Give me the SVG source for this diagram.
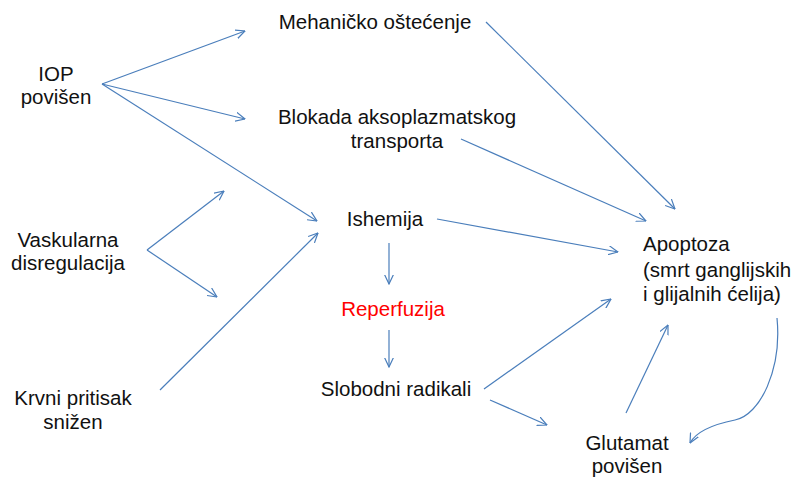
<svg xmlns="http://www.w3.org/2000/svg" width="795" height="477" viewBox="0 0 795 477">
<style>
text{font-family:"Liberation Sans",Arial,sans-serif;font-size:20.5px;fill:#111;}
.c{text-anchor:middle;}
.red{fill:#ff0000;}
.ln{stroke:#4a7ebb;stroke-width:1.2;fill:none;marker-end:url(#ah);}
</style>
<defs>
<marker id="ah" viewBox="0 0 10 10" refX="9.5" refY="5" markerWidth="10" markerHeight="10" markerUnits="userSpaceOnUse" orient="auto">
<path d="M0,0.5 L9.5,5 L0,9.5" fill="none" stroke="#4a7ebb" stroke-width="1.2"/>
</marker>
</defs>
<rect width="795" height="477" fill="#ffffff"/>
<g id="connectors">
<line class="ln" x1="102" y1="84" x2="245" y2="31"/>
<line class="ln" x1="102" y1="84" x2="245" y2="119"/>
<line class="ln" x1="102" y1="84" x2="317" y2="221"/>
<line class="ln" x1="147" y1="250" x2="224" y2="191"/>
<line class="ln" x1="147" y1="250" x2="217" y2="297"/>
<line class="ln" x1="160" y1="390" x2="318" y2="233"/>
<line class="ln" x1="486" y1="22" x2="675" y2="209"/>
<line class="ln" x1="461" y1="139" x2="646" y2="221"/>
<line class="ln" x1="437" y1="219" x2="618" y2="252"/>
<line class="ln" x1="389" y1="243" x2="389" y2="284"/>
<line class="ln" x1="389" y1="330" x2="389" y2="367"/>
<line class="ln" x1="484" y1="389" x2="611" y2="299"/>
<line class="ln" x1="490" y1="400" x2="547" y2="425"/>
<line class="ln" x1="626" y1="413" x2="668" y2="325"/>
<path class="ln" d="M777,318 C782,370 760,415 735,420 C715,424 697,430 690,443"/>
</g>
<g id="iop"><text class="c" x="56" y="81">IOP</text><text class="c" x="56" y="104">povišen</text></g>
<g id="mehanicko"><text class="c" x="375" y="29">Mehaničko oštećenje</text></g>
<g id="blokada"><text class="c" x="397" y="124">Blokada aksoplazmatskog</text><text class="c" x="397" y="148">transporta</text></g>
<g id="ishemija"><text class="c" x="385" y="226">Ishemija</text></g>
<g id="vaskularna"><text class="c" x="68" y="247">Vaskularna</text><text class="c" x="68" y="270">disregulacija</text></g>
<g id="reperfuzija"><text class="c red" x="393" y="316">Reperfuzija</text></g>
<g id="slobodni"><text class="c" x="396" y="396">Slobodni radikali</text></g>
<g id="krvni"><text class="c" x="73" y="405">Krvni pritisak</text><text class="c" x="73" y="429">snižen</text></g>
<g id="apoptoza"><text x="643" y="251">Apoptoza</text><text x="643" y="277">(smrt ganglijskih</text><text x="643" y="301">i glijalnih ćelija)</text></g>
<g id="glutamat"><text class="c" x="627" y="450">Glutamat</text><text class="c" x="627" y="473">povišen</text></g>
</svg>
